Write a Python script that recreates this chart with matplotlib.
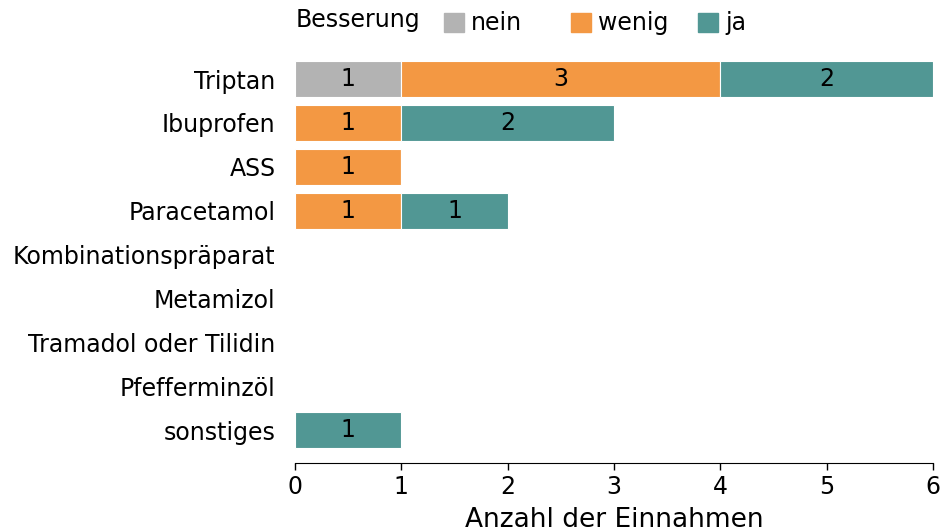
import matplotlib.pyplot as plt
import matplotlib.patches as mpatches
import numpy as np

medikamente = ["Triptan", "Ibuprofen", "ASS", "Paracetamol", "Kombinationspräparat",
               "Metamizol", "Tramadol oder Tilidin", "Pfefferminzöl", "sonstiges"]
nein = [1, 0, 0, 0, 0, 0, 0, 0, 0]
wenig = [3, 1, 1, 1, 0, 0, 0, 0, 0]
ja = [2, 2, 0, 1, 0, 0, 0, 0, 1]

serien = [("nein", nein, "#b3b3b3"), ("wenig", wenig, "#f39843"), ("ja", ja, "#519794")]

plt.rcParams['font.family'] = 'DejaVu Sans'
fig = plt.figure(figsize=(9.41, 5.32), dpi=100)
ax = fig.add_axes([0.3135, 0.1297, 0.678, 0.763])

y = np.arange(len(medikamente))
left = np.zeros(len(medikamente))
for name, vals, col in serien:
    vals = np.array(vals, dtype=float)
    bars = ax.barh(y, vals, left=left, height=0.82, color=col, edgecolor="white", linewidth=0.8)
    for b, v in zip(bars, vals):
        if v > 0:
            ax.text(b.get_x() + b.get_width() / 2, b.get_y() + b.get_height() / 2, str(int(v)),
                    ha="center", va="center", fontsize=17, color="black")
    left += vals

ax.set_yticks(y)
ax.set_yticklabels(medikamente, fontsize=17)
ax.set_ylim(len(medikamente) - 0.25, -0.5)
ax.set_xlim(0, 6)
ax.set_xticks(range(7))
ax.tick_params(axis="x", labelsize=17, length=5, width=1)
ax.tick_params(axis="y", length=0, pad=14)
for s in ["top", "right", "left"]:
    ax.spines[s].set_visible(False)
ax.set_xlabel("Anzahl der Einnahmen", fontsize=19, labelpad=6)

# legend: title + three equally spaced entries
fig.text(0.314, 0.962, "Besserung", fontsize=17, va="center", ha="left")
for i, (name, _, col) in enumerate(serien):
    fig.legend(handles=[mpatches.Patch(color=col, label=name)], loc="center left",
               bbox_to_anchor=(0.472 + i * 0.135, 0.956), frameon=False, fontsize=17,
               handlelength=0.85, handleheight=0.85, handletextpad=0.3,
               borderaxespad=0, borderpad=0)

fig.savefig("out.png", dpi=100)
